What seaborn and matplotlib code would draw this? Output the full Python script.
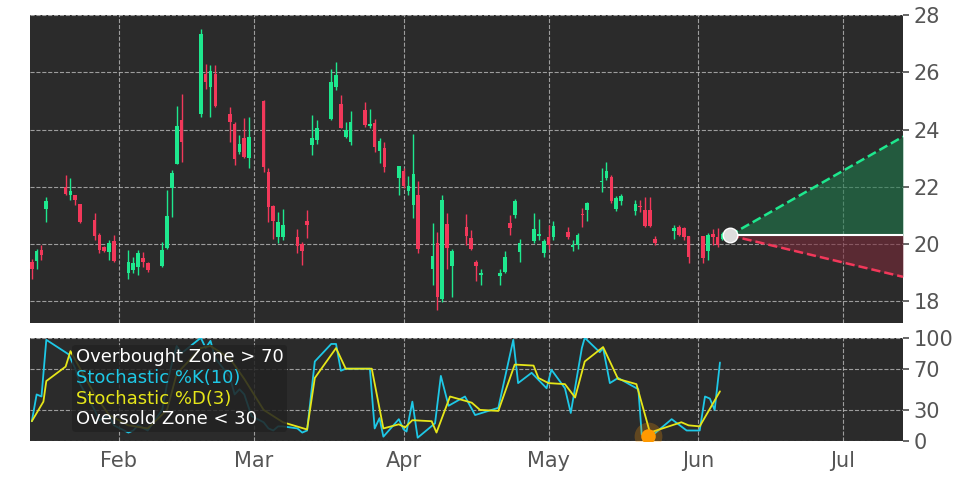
import numpy as np
import pandas as pd
import matplotlib
matplotlib.use("Agg")
import matplotlib.pyplot as plt
import matplotlib.dates as mdates
import seaborn as sns

base_date = "2021-01-14"
# candle day offsets from base_date
days = [0,1,2,3,7,8,9,10,13,14,15,16,17,20,21,22,23,24,27,28,29,30,31,35,36,37,38,41,42,43,44,45,
        48,49,50,51,52,55,56,57,58,59,62,63,64,65,66,69,70,71,72,73,76,77,78,79,80,83,84,85,86,87,
        90,91,92,93,97,98,99,100,101,104,105,106,107,108,111,112,113,114,115,118,119,120,121,122,
        125,126,127,128,129,133,134,135,136,139,140,141,142,143]
opens = [19.38,19.40,19.78,21.22,22.00,21.71,21.71,21.38,20.83,20.33,19.90,19.72,20.10,18.97,19.08,19.20,19.52,19.35,
         19.24,19.86,21.96,22.79,24.33,24.54,25.94,25.49,25.94,24.54,24.19,23.22,23.69,22.99,24.99,22.52,
         21.32,20.25,20.25,20.25,19.99,20.80,23.45,23.63,24.36,25.49,24.89,23.75,23.55,24.68,24.12,24.24,23.24,23.36,
         22.32,22.56,21.86,21.36,21.71,19.12,20.05,18.07,20.68,19.24,20.60,20.21,19.38,18.93,
         18.89,19.03,20.74,21.01,19.73,20.10,20.27,19.67,20.25,20.23,20.42,19.90,19.96,21.02,21.18,
         22.17,22.29,22.35,21.21,21.50,21.16,21.32,21.18,21.18,20.16,20.45,20.60,20.56,20.27,20.27,19.76,20.34,20.25,20.19]
highs = [19.49,19.84,19.96,21.65,22.41,22.29,21.71,21.41,21.07,20.37,19.93,20.13,20.31,19.78,19.55,19.78,19.72,19.38,
         20.07,21.88,22.58,24.82,25.23,27.51,26.28,26.25,26.25,24.79,24.27,23.80,24.39,24.42,25.03,22.64,
         21.36,21.12,21.22,20.52,20.07,21.18,24.50,24.33,26.11,26.37,25.20,24.27,24.66,24.95,24.70,24.36,23.71,23.55,
         22.73,22.64,22.38,23.86,22.20,20.72,20.42,21.71,21.07,19.82,21.04,20.48,19.43,19.12,
         19.11,19.76,21.01,21.56,20.19,21.07,20.86,20.19,20.66,20.81,20.58,20.13,20.39,21.24,21.47,
         22.64,22.85,22.41,21.67,21.76,21.53,21.53,21.63,21.63,20.27,20.66,20.66,20.58,20.27,20.27,20.39,20.51,20.54,20.42]
lows = [18.79,19.14,19.43,20.77,21.71,21.53,21.36,20.72,20.13,19.67,19.72,19.43,19.38,18.79,18.97,18.91,19.20,19.03,
        19.20,19.84,20.93,22.79,22.87,24.45,25.41,24.45,24.79,23.57,22.76,23.16,22.99,22.64,22.52,20.77,
        20.19,20.02,20.13,19.67,19.28,20.21,23.10,23.51,24.33,25.38,24.04,23.71,23.45,24.10,24.04,23.22,22.84,22.52,
        21.71,21.94,21.71,20.89,19.70,18.56,17.69,17.98,19.14,18.15,19.96,19.78,18.71,18.56,
        18.56,18.97,20.31,20.89,19.37,20.02,20.13,19.55,19.84,20.13,20.19,19.76,19.84,20.60,20.81,
        21.82,22.23,21.44,21.16,21.36,21.01,21.12,20.58,20.58,19.96,20.19,20.27,20.13,19.32,19.32,19.43,19.96,19.90,20.13]
closes = [19.14,19.75,19.63,21.50,21.74,21.85,21.53,20.77,20.28,19.78,19.76,20.02,19.40,19.38,19.32,19.67,19.38,19.08,
          19.78,20.97,22.49,24.12,23.57,27.34,25.67,26.05,24.83,24.25,22.97,23.51,23.05,23.75,22.70,21.30,
          20.80,20.77,20.66,19.93,19.75,20.66,23.69,24.04,25.65,25.90,24.07,23.98,24.27,24.15,24.20,23.40,23.59,22.69,
          22.73,22.03,22.01,22.44,19.82,19.59,18.15,21.53,19.86,19.75,20.28,19.82,19.24,18.97,
          18.97,19.53,20.54,21.51,20.05,20.52,20.34,20.10,19.96,20.62,20.23,19.96,20.33,21.00,21.44,
          22.21,22.55,21.50,21.59,21.67,21.39,21.28,20.62,20.62,20.02,20.56,20.33,20.25,19.53,19.52,20.31,20.23,19.96,20.34]

# forecast
fc_day, fc_price = 144.5, 20.3
fc_end_day = 180.4
fc_up, fc_down = 23.75, 18.85

# stochastic lines (day, value)
k_days = [0,1,2,3,7.6,9,10,13,14,16,17,20,21,22,24,27,28,29,30,31,35,36,37,38,41,42,43,44,45.5,48,49,50,51,52,55,56,57,
          58.6,62,63,64,65,70,71,72,72.8,76,77,77.6,78.8,79.9,83.5,84.7,86.3,89.7,91.8,96.6,99.7,100.7,103.5,106.6,107.6,
          110.4,111.6,113.9,114.5,117.6,118.3,119.7,121.4,125.6,126.3,128.7,132.5,135.6,138.3,139.4,140.4,141.4,142.5]
k_vals = [19,45,43,98,84,70,55,30,20,25,15,8,10,15,10,30,55,75,92,85,100,90,97,80,62,45,50,45,24,18,12,10,14,14,12,8,10,
          77,94,94,68,70,70,12,22,4,21,11,9,38,3,17,63,34,43,25,32,98,56,66,51,69,
          51,27,90,100,86,90,56,61,50,6,6,21,10,10,43,41,30,76]
d_days = [0,2.4,3,7,8,10,13,16,20,24,28,30,35,37,41,44,48,52,57,58.6,63,65,70.4,72.8,76,77.3,78.8,82.8,83.8,86.6,91.1,92.8,
          96.6,100,103.9,104.9,107,110.4,112.5,114.5,118.3,121.4,125.2,128,134.5,136,138.3,142.5]
d_vals = [19,38,58,72,87,70,45,25,15,12,30,65,90,92,80,60,30,18,11,61,90,70,70,12,16,13,20,19,8,43,37,30,
          29,74,73,61,56,55,42,77,91,60,55,8,18,15,14,48]
oversold_day, oversold_val = 127.5, 5

t0 = mdates.date2num(pd.Timestamp(base_date))
x = t0 + np.array(days, dtype=float)
o, h, l, c = map(np.array, (opens, highs, lows, closes))
up = c >= o
GREEN, RED = "#1ee88e", "#f2385a"
BG = "#2b2b2b"

sns.set_theme(style="dark")
plt.rcParams["font.family"] = ["DejaVu Sans"]
fig = plt.figure(figsize=(9.72, 4.86), dpi=100, facecolor="white")
ax = fig.add_axes([0.031, 0.335, 0.898, 0.634])
ax2 = fig.add_axes([0.031, 0.093, 0.898, 0.212])

for a in (ax, ax2):
    a.set_facecolor(BG)
    for s in a.spines.values():
        s.set_visible(False)
    a.grid(True, color="#bbbbbb", linestyle="--", linewidth=0.8, alpha=0.8)
    a.yaxis.tick_right()
    a.tick_params(axis="both", colors="#555555", labelsize=15, length=4, color="#555555")
    a.set_xlim(t0 - 0.35, t0 + 180.4)
    a.xaxis.set_major_locator(mdates.MonthLocator())
    a.xaxis.set_major_formatter(mdates.DateFormatter("%b"))

cols = np.where(up, GREEN, RED)
ax.vlines(x, l, h, colors=cols, linewidth=1)
ax.bar(x, np.maximum(np.abs(c - o), 0.04), bottom=np.minimum(o, c), width=0.75, color=cols, linewidth=0)

fx = np.array([t0 + fc_day, t0 + fc_end_day])
ax.plot(fx, [fc_price, fc_price], color="white", linewidth=1.5, zorder=3)
ax.plot(fx, [fc_price, fc_up], color=GREEN, linestyle="--", linewidth=1.8, zorder=3)
ax.plot(fx, [fc_price, fc_down], color=RED, linestyle="--", linewidth=1.8, zorder=3)
ax.fill_between(fx, [fc_price, fc_price], [fc_price, fc_up], color="#1f7a4c", alpha=0.6, linewidth=0)
ax.fill_between(fx, [fc_price, fc_price], [fc_price, fc_down], color="#7a2a3a", alpha=0.6, linewidth=0)
ax.scatter([t0 + fc_day], [fc_price], s=110, color="#dddddd", zorder=5, edgecolor="white")
ax.set_ylim(17.23, 28)
ax.set_yticks([18, 20, 22, 24, 26, 28])
ax.tick_params(axis="x", labelbottom=False)

kdf = pd.DataFrame({"t": t0 + np.array(k_days), "v": k_vals})
ddf = pd.DataFrame({"t": t0 + np.array(d_days), "v": d_vals})
sns.lineplot(data=kdf, x="t", y="v", ax=ax2, color="#1ec8e6", linewidth=1.3, label="Stochastic %K(10)")
sns.lineplot(data=ddf, x="t", y="v", ax=ax2, color="#e6e619", linewidth=1.3, label="Stochastic %D(3)")
ax2.scatter([t0 + oversold_day], [oversold_val], s=400, color="#ff9900", alpha=0.25, zorder=4, linewidth=0)
ax2.scatter([t0 + oversold_day], [oversold_val], s=110, color="#ff9900", zorder=5, linewidth=0)
ax2.set_ylim(0, 100)
ax2.set_yticks([0, 30, 70, 100])
ax2.set_xlabel("")
ax2.set_ylabel("")
ax.set_xlabel("")
ax.set_ylabel("")
ax2.get_legend().remove()

h1, = ax2.plot([], [], color="none", label="Overbought Zone > 70")
h4, = ax2.plot([], [], color="none", label="Oversold Zone < 30")
handles = [h1] + ax2.get_lines()[:2] + [h4]
leg = ax2.legend(handles=[h1, ax2.get_lines()[0], ax2.get_lines()[1], h4],
                 labels=["Overbought Zone > 70", "Stochastic %K(10)", "Stochastic %D(3)", "Oversold Zone < 30"],
                 loc="upper left", bbox_to_anchor=(0.038, 1.02), frameon=True, fontsize=13,
                 handlelength=0, handletextpad=0, borderpad=0.2, labelspacing=0.15, framealpha=0.85)
leg.get_frame().set_facecolor("#222222")
leg.get_frame().set_edgecolor("none")
for txt, colr in zip(leg.get_texts(), ["white", "#1ec8e6", "#e6e619", "white"]):
    txt.set_color(colr)

fig.savefig("out.png", dpi=100, facecolor="white")
